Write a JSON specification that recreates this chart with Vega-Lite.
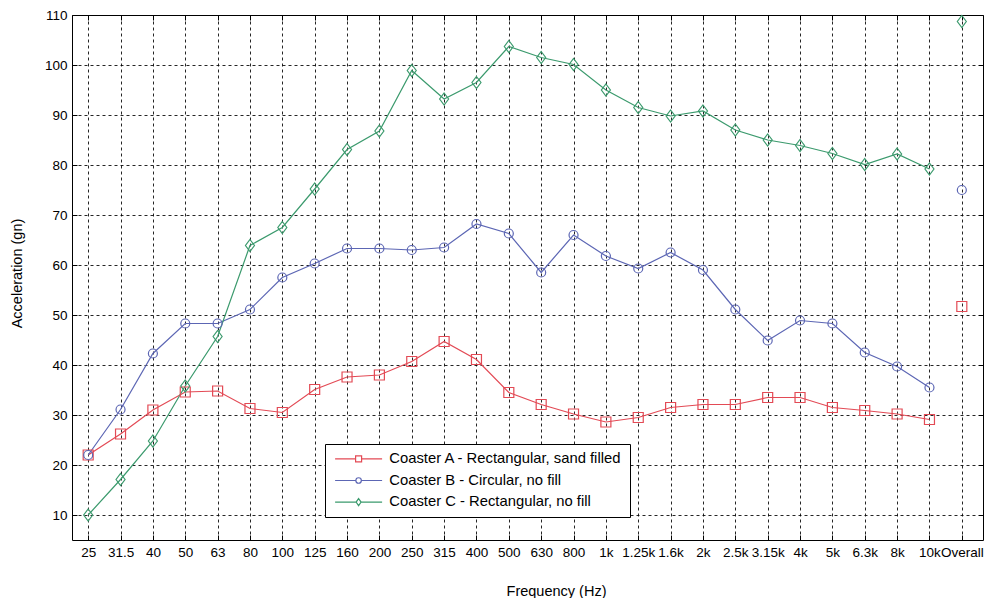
{
  "$schema": "https://vega.github.io/schema/vega-lite/v6.json",
  "width": 911,
  "height": 525,
  "autosize": {"type": "none"},
  "padding": {"left": 72, "top": 15, "right": 19, "bottom": 58},
  "background": "white",
  "config": {
    "font": "Liberation Sans",
    "view": {"stroke": "#000", "strokeWidth": 1},
    "axis": {
      "labelFont": "Liberation Sans",
      "labelFontSize": 13.5,
      "labelColor": "#000",
      "titleFont": "Liberation Sans",
      "titleFontSize": 14.5,
      "titleFontWeight": "normal",
      "titleColor": "#000",
      "tickColor": "#000",
      "tickSize": -5,
      "tickWidth": 1,
      "domain": false,
      "gridColor": "#000",
      "gridDash": [3, 3],
      "gridOpacity": 0.85,
      "gridWidth": 1,
      "labelOverlap": false,
      "labelBound": false
    }
  },
  "data": {
    "values": [
      {"coaster": "Coaster A - Rectangular, sand filled", "freq": "25", "accel": 22},
      {"coaster": "Coaster A - Rectangular, sand filled", "freq": "31.5", "accel": 26.2},
      {"coaster": "Coaster A - Rectangular, sand filled", "freq": "40", "accel": 31},
      {"coaster": "Coaster A - Rectangular, sand filled", "freq": "50", "accel": 34.6},
      {"coaster": "Coaster A - Rectangular, sand filled", "freq": "63", "accel": 34.8},
      {"coaster": "Coaster A - Rectangular, sand filled", "freq": "80", "accel": 31.3},
      {"coaster": "Coaster A - Rectangular, sand filled", "freq": "100", "accel": 30.5},
      {"coaster": "Coaster A - Rectangular, sand filled", "freq": "125", "accel": 35.1},
      {"coaster": "Coaster A - Rectangular, sand filled", "freq": "160", "accel": 37.6},
      {"coaster": "Coaster A - Rectangular, sand filled", "freq": "200", "accel": 38},
      {"coaster": "Coaster A - Rectangular, sand filled", "freq": "250", "accel": 40.7},
      {"coaster": "Coaster A - Rectangular, sand filled", "freq": "315", "accel": 44.7},
      {"coaster": "Coaster A - Rectangular, sand filled", "freq": "400", "accel": 41.1},
      {"coaster": "Coaster A - Rectangular, sand filled", "freq": "500", "accel": 34.5},
      {"coaster": "Coaster A - Rectangular, sand filled", "freq": "630", "accel": 32.1},
      {"coaster": "Coaster A - Rectangular, sand filled", "freq": "800", "accel": 30.2},
      {"coaster": "Coaster A - Rectangular, sand filled", "freq": "1k", "accel": 28.6},
      {"coaster": "Coaster A - Rectangular, sand filled", "freq": "1.25k", "accel": 29.5},
      {"coaster": "Coaster A - Rectangular, sand filled", "freq": "1.6k", "accel": 31.5},
      {"coaster": "Coaster A - Rectangular, sand filled", "freq": "2k", "accel": 32.1},
      {"coaster": "Coaster A - Rectangular, sand filled", "freq": "2.5k", "accel": 32.1},
      {"coaster": "Coaster A - Rectangular, sand filled", "freq": "3.15k", "accel": 33.5},
      {"coaster": "Coaster A - Rectangular, sand filled", "freq": "4k", "accel": 33.5},
      {"coaster": "Coaster A - Rectangular, sand filled", "freq": "5k", "accel": 31.5},
      {"coaster": "Coaster A - Rectangular, sand filled", "freq": "6.3k", "accel": 30.9},
      {"coaster": "Coaster A - Rectangular, sand filled", "freq": "8k", "accel": 30.2},
      {"coaster": "Coaster A - Rectangular, sand filled", "freq": "10k", "accel": 29.1},
      {"coaster": "Coaster A - Rectangular, sand filled", "freq": "Overall", "accel": 51.7},
      {"coaster": "Coaster B - Circular, no fill", "freq": "25", "accel": 22},
      {"coaster": "Coaster B - Circular, no fill", "freq": "31.5", "accel": 31.1},
      {"coaster": "Coaster B - Circular, no fill", "freq": "40", "accel": 42.3},
      {"coaster": "Coaster B - Circular, no fill", "freq": "50", "accel": 48.3},
      {"coaster": "Coaster B - Circular, no fill", "freq": "63", "accel": 48.3},
      {"coaster": "Coaster B - Circular, no fill", "freq": "80", "accel": 51.1},
      {"coaster": "Coaster B - Circular, no fill", "freq": "100", "accel": 57.5},
      {"coaster": "Coaster B - Circular, no fill", "freq": "125", "accel": 60.3},
      {"coaster": "Coaster B - Circular, no fill", "freq": "160", "accel": 63.3},
      {"coaster": "Coaster B - Circular, no fill", "freq": "200", "accel": 63.3},
      {"coaster": "Coaster B - Circular, no fill", "freq": "250", "accel": 63},
      {"coaster": "Coaster B - Circular, no fill", "freq": "315", "accel": 63.5},
      {"coaster": "Coaster B - Circular, no fill", "freq": "400", "accel": 68.2},
      {"coaster": "Coaster B - Circular, no fill", "freq": "500", "accel": 66.3},
      {"coaster": "Coaster B - Circular, no fill", "freq": "630", "accel": 58.5},
      {"coaster": "Coaster B - Circular, no fill", "freq": "800", "accel": 66},
      {"coaster": "Coaster B - Circular, no fill", "freq": "1k", "accel": 61.8},
      {"coaster": "Coaster B - Circular, no fill", "freq": "1.25k", "accel": 59.3},
      {"coaster": "Coaster B - Circular, no fill", "freq": "1.6k", "accel": 62.5},
      {"coaster": "Coaster B - Circular, no fill", "freq": "2k", "accel": 59},
      {"coaster": "Coaster B - Circular, no fill", "freq": "2.5k", "accel": 51.1},
      {"coaster": "Coaster B - Circular, no fill", "freq": "3.15k", "accel": 44.9},
      {"coaster": "Coaster B - Circular, no fill", "freq": "4k", "accel": 48.9},
      {"coaster": "Coaster B - Circular, no fill", "freq": "5k", "accel": 48.3},
      {"coaster": "Coaster B - Circular, no fill", "freq": "6.3k", "accel": 42.5},
      {"coaster": "Coaster B - Circular, no fill", "freq": "8k", "accel": 39.7},
      {"coaster": "Coaster B - Circular, no fill", "freq": "10k", "accel": 35.5},
      {"coaster": "Coaster B - Circular, no fill", "freq": "Overall", "accel": 75},
      {"coaster": "Coaster C - Rectangular, no fill", "freq": "25", "accel": 10},
      {"coaster": "Coaster C - Rectangular, no fill", "freq": "31.5", "accel": 17.1},
      {"coaster": "Coaster C - Rectangular, no fill", "freq": "40", "accel": 24.8},
      {"coaster": "Coaster C - Rectangular, no fill", "freq": "50", "accel": 35.8},
      {"coaster": "Coaster C - Rectangular, no fill", "freq": "63", "accel": 45.7},
      {"coaster": "Coaster C - Rectangular, no fill", "freq": "80", "accel": 63.9},
      {"coaster": "Coaster C - Rectangular, no fill", "freq": "100", "accel": 67.5},
      {"coaster": "Coaster C - Rectangular, no fill", "freq": "125", "accel": 75.2},
      {"coaster": "Coaster C - Rectangular, no fill", "freq": "160", "accel": 83.1},
      {"coaster": "Coaster C - Rectangular, no fill", "freq": "200", "accel": 86.8},
      {"coaster": "Coaster C - Rectangular, no fill", "freq": "250", "accel": 98.9},
      {"coaster": "Coaster C - Rectangular, no fill", "freq": "315", "accel": 93.2},
      {"coaster": "Coaster C - Rectangular, no fill", "freq": "400", "accel": 96.5},
      {"coaster": "Coaster C - Rectangular, no fill", "freq": "500", "accel": 103.7},
      {"coaster": "Coaster C - Rectangular, no fill", "freq": "630", "accel": 101.5},
      {"coaster": "Coaster C - Rectangular, no fill", "freq": "800", "accel": 100.1},
      {"coaster": "Coaster C - Rectangular, no fill", "freq": "1k", "accel": 95},
      {"coaster": "Coaster C - Rectangular, no fill", "freq": "1.25k", "accel": 91.5},
      {"coaster": "Coaster C - Rectangular, no fill", "freq": "1.6k", "accel": 89.8},
      {"coaster": "Coaster C - Rectangular, no fill", "freq": "2k", "accel": 90.8},
      {"coaster": "Coaster C - Rectangular, no fill", "freq": "2.5k", "accel": 87},
      {"coaster": "Coaster C - Rectangular, no fill", "freq": "3.15k", "accel": 85},
      {"coaster": "Coaster C - Rectangular, no fill", "freq": "4k", "accel": 83.9},
      {"coaster": "Coaster C - Rectangular, no fill", "freq": "5k", "accel": 82.3},
      {"coaster": "Coaster C - Rectangular, no fill", "freq": "6.3k", "accel": 80.1},
      {"coaster": "Coaster C - Rectangular, no fill", "freq": "8k", "accel": 82.2},
      {"coaster": "Coaster C - Rectangular, no fill", "freq": "10k", "accel": 79.2},
      {"coaster": "Coaster C - Rectangular, no fill", "freq": "Overall", "accel": 108.7}
    ]
  },
  "layer": [
    {
      "transform": [{"filter": "datum.freq !== 'Overall'"}],
      "mark": {"type": "line", "strokeWidth": 1.2},
      "encoding": {
        "x": {
          "field": "freq",
          "type": "ordinal",
          "scale": {
            "type": "point",
            "domain": ["25", "31.5", "40", "50", "63", "80", "100", "125", "160", "200", "250", "315", "400", "500", "630", "800", "1k", "1.25k", "1.6k", "2k", "2.5k", "3.15k", "4k", "5k", "6.3k", "8k", "10k", "Overall"],
            "range": [0, 906]
          },
          "axis": {"title": "Frequency (Hz)", "grid": true, "labelAngle": 0, "labelPadding": 10, "titleX": 484, "titleY": 55, "titleAlign": "center", "titleBaseline": "alphabetic"}
        },
        "y": {
          "field": "accel",
          "type": "quantitative",
          "scale": {"domain": [5, 110], "nice": false, "zero": false},
          "axis": {"title": "Acceleration (gn)", "values": [10, 20, 30, 40, 50, 60, 70, 80, 90, 100, 110], "grid": true, "labelPadding": 10, "titleX": -51, "titleY": 258, "titleAngle": -90, "titleAlign": "center", "titleBaseline": "alphabetic"}
        },
        "color": {
          "field": "coaster",
          "type": "nominal",
          "scale": {
            "domain": ["Coaster A - Rectangular, sand filled", "Coaster B - Circular, no fill", "Coaster C - Rectangular, no fill"],
            "range": ["#e34a55", "#5c66b4", "#3b9a6d"]
          },
          "legend": {
            "orient": "none",
            "legendX": 253,
            "legendY": 429,
            "title": null,
            "symbolSize": 100,
            "symbolStrokeWidth": 1.2,
            "symbolOffset": 18.7,
            "symbolType": {"expr": "datum.value === 'Coaster A - Rectangular, sand filled' ? 'M-4.7,0H-0.6M0.6,0H4.7M-0.6,-0.6H0.6V0.6H-0.6Z' : datum.value === 'Coaster B - Circular, no fill' ? 'M-4.7,0H-0.55M0.55,0H4.7M-0.55,0A0.55,0.55,0,1,0,0.55,0A0.55,0.55,0,1,0,-0.55,0Z' : 'M-4.7,0H-0.5M0.5,0H4.7M0,-0.7L0.5,0L0,0.7L-0.5,0Z'"},
            "labelOffset": 23.3,
            "labelFont": "Liberation Sans",
            "labelFontSize": 14.8,
            "labelColor": "#000",
            "labelLimit": 400,
            "strokeColor": "#000",
            "fillColor": "#fff",
            "padding": 7.5,
            "rowPadding": 5.6
          }
        }
      }
    },
    {
      "mark": {"type": "point", "filled": false, "size": 100, "strokeWidth": 1.2, "opacity": 1},
      "encoding": {
        "x": {"field": "freq", "type": "ordinal", "axis": {"orient": "top", "labels": false, "grid": false, "title": null}},
        "y": {"field": "accel", "type": "quantitative", "axis": {"orient": "right", "labels": false, "grid": false, "title": null, "values": [10, 20, 30, 40, 50, 60, 70, 80, 90, 100, 110]}},
        "color": {"field": "coaster", "type": "nominal", "legend": null},
        "shape": {
          "field": "coaster",
          "type": "nominal",
          "scale": {
            "range": ["M-1,-1H1V1H-1Z", "M-0.9,0A0.9,0.9,0,1,0,0.9,0A0.9,0.9,0,1,0,-0.9,0Z", "M0,-1.2L0.9,0L0,1.2L-0.9,0Z"]
          },
          "legend": null
        }
      }
    }
  ],
  "resolve": {"axis": {"x": "independent", "y": "independent"}}
}
